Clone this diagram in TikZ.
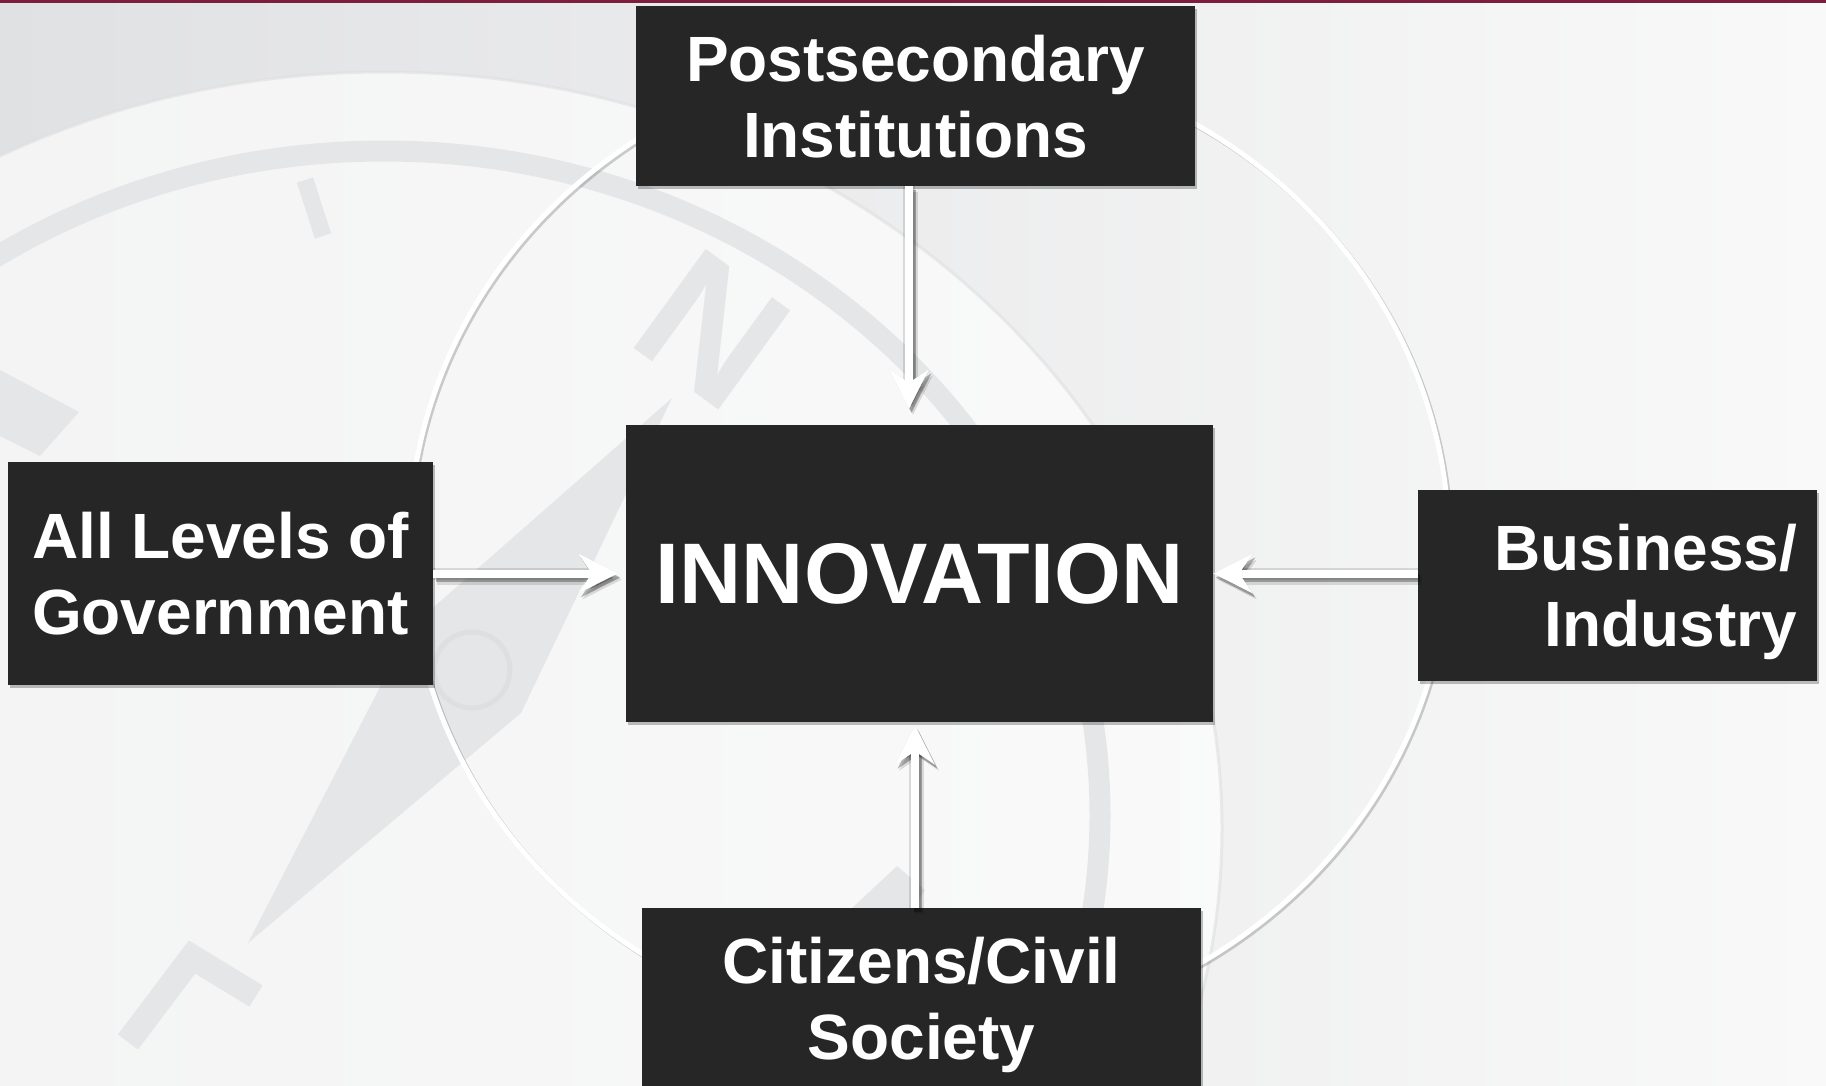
\documentclass[tikz,border=0pt]{standalone}
\usepackage{fontspec}
\setmainfont{Liberation Sans}
\usetikzlibrary{arrows.meta,shadows}
\definecolor{boxc}{RGB}{38,38,38}
\definecolor{bgL}{RGB}{224,225,227}
\definecolor{bgM}{RGB}{237,238,239}
\definecolor{bgR}{RGB}{249,249,249}
\definecolor{wm}{RGB}{229,230,231}
\definecolor{wmd}{RGB}{222,223,224}
\definecolor{topline}{RGB}{125,30,60}
\begin{document}
\begin{tikzpicture}[x=1pt,y=-1pt,
  lbl/.style={text=white, inner sep=0pt, align=center,
    font=\bfseries\fontsize{64}{76}\selectfont, text depth=0pt},
  box/.style={lbl, fill=boxc,
    drop shadow={shadow xshift=2pt, shadow yshift=-3pt, opacity=0.25, fill=black}},
  arrowhd/.style={-{Stealth[length=39pt,width=39pt,inset=13pt]}},
  arr/.style={draw=white, line width=8pt, arrowhd},
  arrglow/.style={draw=black, opacity=0.12, line width=12pt, arrowhd},
  arrsh/.style={draw=black, opacity=0.12, line width=10pt, arrowhd,
    transform canvas={xshift=4pt,yshift=-6pt}},
  arrsh2/.style={draw=black, opacity=0.28, line width=8pt, arrowhd,
    transform canvas={xshift=2.5pt,yshift=-4pt}}
]
\useasboundingbox (0,0) rectangle (1826,1085);
\clip (0,0) rectangle (1826,1085);
% background
\shade[left color=bgL, middle color=bgM, right color=bgR] (0,0) rectangle (1826,1085);
% compass watermark
\fill[white, opacity=0.65] (384,829) ellipse (838pt and 757pt);
\draw[wmd, opacity=0.6, line width=3pt] (384,829) ellipse (838pt and 757pt);
\draw[wm, line width=21pt] (384,815) ellipse (716pt and 664pt);
\fill[wm] (672,398) -- (521,713) -- (248,943) -- (411,627) -- cycle;
\fill[wm] (472,670) circle (40pt);
\draw[wmd, line width=5pt] (472,670) circle (38pt);
\node[text=wm, inner sep=0pt, font=\bfseries\fontsize{178}{178}\selectfont, rotate=-36] (nletter) at (712,330) {N};
\draw[wm, line width=17pt] (305,180) -- (323,236);
\fill[wm] (0,370) -- (79,412) -- (40,456) -- (0,436) -- cycle;
\draw[wm, line width=25pt] (128,1042) -- (192,957) -- (256,996);
\fill[wm] (850,910) -- (897,866) -- (925,890) -- (912,910) -- cycle;
% white ring
\draw[black, opacity=0.18, line width=5pt, transform canvas={xshift=2pt,yshift=-2pt}] (929,545) ellipse (520pt and 490pt);
\draw[white, line width=5pt] (929,545) ellipse (520pt and 490pt);
% top line
\fill[topline] (0,0) rectangle (1826,3);
% boxes
\node[box, minimum width=559pt, minimum height=180pt] (post) at (915.5,96) {Postsecondary\\Institutions};
\node[box, minimum width=587pt, minimum height=297pt, font=\bfseries\fontsize{86}{100}\selectfont] (inno) at (919.5,573.5) {INNOVATION};
\node[box, minimum width=425pt, minimum height=223pt] (gov) at (220.5,573.5) {All Levels of\\Government};
\node[box, minimum width=399pt, minimum height=191pt] (biz) at (1617.5,585.5) {};
\node[lbl, align=right, anchor=east, xshift=-20pt] (biztext) at (biz.east) {Business/\\Industry};
\node[box, minimum width=559pt, minimum height=180pt] (civ) at (921.5,998) {Citizens/Civil\\Society};
% arrows
\path (post.south) ++(-6.5,0) coordinate (tA);
\path (civ.north) ++(-6.5,0) coordinate (tB);
\foreach \s in {arrglow,arrsh,arrsh2}{
  \draw[\s, shorten >=16pt] (tA) -- (tA |- inno.north);
  \draw[\s, shorten >=8pt] (gov.east) -- (gov.east -| inno.west);
  \draw[\s] (biz.west |- inno.east) -- (inno.east);
  \draw[\s, shorten >=3pt] (tB) -- (tB |- inno.south);
}
\draw[arr, shorten >=16pt] (tA) -- (tA |- inno.north);
\draw[arr, shorten >=8pt] (gov.east) -- (gov.east -| inno.west);
\draw[arr] (biz.west |- inno.east) -- (inno.east);
\draw[arr, shorten >=3pt] (tB) -- (tB |- inno.south);
\end{tikzpicture}
\end{document}
